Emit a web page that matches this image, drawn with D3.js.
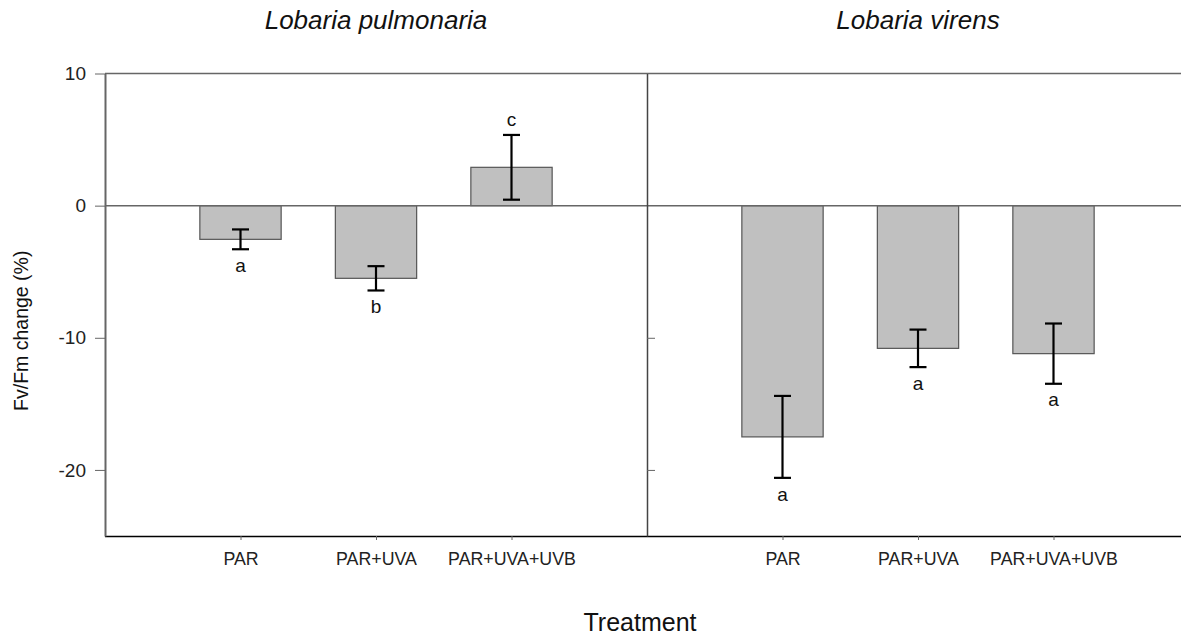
<!DOCTYPE html>
<html>
<head>
<meta charset="utf-8">
<script src="https://cdn.jsdelivr.net/npm/d3@7"></script>
<style>
  html, body { margin: 0; padding: 0; background: #fff; }
  svg { display: block; font-family: Arial, "Liberation Sans", sans-serif; }
</style>
</head>
<body>
<svg id="chart" width="1181" height="639"></svg>
<script>
// ---- data ----
const categories = ["PAR", "PAR+UVA", "PAR+UVA+UVB"];
const species = ["Lobaria pulmonaria", "Lobaria virens"];
const pulmonariaValues = [-2.55, -5.5, 2.9];
const pulmonariaErrors = [0.75, 0.92, 2.45];
const pulmonariaLetters = ["a", "b", "c"];
const virensValues = [-17.5, -10.8, -11.2];
const virensErrors = [3.1, 1.42, 2.28];
const virensLetters = ["a", "a", "a"];
const yTicks = [10, 0, -10, -20];
const yDomain = [-25, 10];

const panels = [
  { title: species[0], values: pulmonariaValues, errors: pulmonariaErrors, letters: pulmonariaLetters },
  { title: species[1], values: virensValues, errors: virensErrors, letters: virensLetters }
];

// ---- layout ----
const svg = d3.select("#chart");
const W = 1181;
const plotLeft = 105, plotTop = 73.5, plotBottom = 536, panelW = 542;
const axisGrey = "#666";
const FONT = "Arial, 'Liberation Sans', sans-serif";

const y = d3.scaleLinear().domain(yDomain).range([plotBottom, plotTop]);

panels.forEach((p, i) => {
  const x0 = plotLeft + i * panelW;
  const x = d3.scalePoint().domain(categories).range([x0, x0 + panelW]).padding(1);
  const bw = x.step() * 0.6;
  const g = svg.append("g");

  // bars
  g.selectAll("rect.bar").data(p.values).join("rect")
    .attr("class", "bar")
    .attr("x", (d, j) => x(categories[j]) - bw / 2)
    .attr("y", d => y(Math.max(0, d)))
    .attr("width", bw)
    .attr("height", d => Math.abs(y(d) - y(0)))
    .attr("fill", "#c0c0c0")
    .attr("stroke", "#555")
    .attr("stroke-width", 1.2);

  // error bars
  const eb = g.selectAll("g.err").data(p.values).join("g").attr("class", "err");
  const cap = 8.5;
  eb.append("line")
    .attr("x1", (d, j) => x(categories[j])).attr("x2", (d, j) => x(categories[j]))
    .attr("y1", (d, j) => y(d + p.errors[j])).attr("y2", (d, j) => y(d - p.errors[j]))
    .attr("stroke", "#000").attr("stroke-width", 2.2);
  [1, -1].forEach(s => {
    eb.append("line")
      .attr("x1", (d, j) => x(categories[j]) - cap).attr("x2", (d, j) => x(categories[j]) + cap)
      .attr("y1", (d, j) => y(d + s * p.errors[j])).attr("y2", (d, j) => y(d + s * p.errors[j]))
      .attr("stroke", "#000").attr("stroke-width", 2.2);
  });

  // significance letters
  g.selectAll("text.letter").data(p.values).join("text")
    .attr("class", "letter")
    .attr("x", (d, j) => x(categories[j]))
    .attr("y", (d, j) => d >= 0 ? y(d + p.errors[j]) - 16 : y(d - p.errors[j]) + 16)
    .attr("dy", "0.35em")
    .attr("text-anchor", "middle")
    .attr("font-size", 19)
    .attr("fill", "#111")
    .text((d, j) => p.letters[j]);

  // bottom axis
  const xb = g.append("g").attr("transform", `translate(0,${plotBottom})`)
    .call(d3.axisBottom(x).tickSize(4).tickSizeOuter(0).tickPadding(12));
  xb.select(".domain").attr("stroke", "#000").attr("stroke-width", 1.5)
    .attr("d", `M${x0},0.5H${x0 + panelW}`);
  xb.selectAll(".tick line").attr("stroke", axisGrey);
  xb.selectAll(".tick text").attr("font-size", 17.8).attr("fill", "#222")
    .attr("font-family", FONT);

  // title
  svg.append("text")
    .attr("x", x0 + panelW / 2)
    .attr("y", 29)
    .attr("text-anchor", "middle")
    .attr("font-size", 26)
    .attr("font-style", "italic")
    .attr("fill", "#111")
    .text(p.title);
});

// zero line across both panels
svg.append("line")
  .attr("x1", plotLeft).attr("x2", W)
  .attr("y1", y(0)).attr("y2", y(0))
  .attr("stroke", axisGrey).attr("stroke-width", 1.5);

// top border
svg.append("line")
  .attr("x1", plotLeft).attr("x2", W)
  .attr("y1", y(yDomain[1])).attr("y2", y(yDomain[1]))
  .attr("stroke", axisGrey).attr("stroke-width", 1.5);

// left y axis
const ya = svg.append("g").attr("transform", `translate(${plotLeft},0)`)
  .call(d3.axisLeft(y).tickValues(yTicks).tickSize(10).tickSizeOuter(0).tickPadding(9).tickFormat(d => String(d)));
ya.select(".domain").attr("stroke", axisGrey).attr("stroke-width", 2);
ya.selectAll(".tick line").attr("stroke", axisGrey);
ya.selectAll(".tick text").attr("font-size", 19).attr("fill", "#222")
  .attr("font-family", FONT);

// divider axis (right panel), inward ticks without labels
const ya2 = svg.append("g").attr("transform", `translate(${plotLeft + panelW},0)`)
  .call(d3.axisRight(y).tickValues(yTicks.filter(v => v < 0)).tickSize(8).tickSizeOuter(0).tickFormat(""));
ya2.select(".domain").attr("stroke", "#444").attr("stroke-width", 1.5);
ya2.selectAll(".tick line").attr("stroke", axisGrey);

// axis titles
svg.append("text")
  .attr("transform", `translate(28,${(plotTop + plotBottom) / 2 + 26}) rotate(-90)`)
  .attr("text-anchor", "middle")
  .attr("font-size", 19.5)
  .attr("fill", "#111")
  .text("Fv/Fm change (%)");

svg.append("text")
  .attr("x", 640)
  .attr("y", 631)
  .attr("text-anchor", "middle")
  .attr("font-size", 25)
  .attr("fill", "#111")
  .text("Treatment");
</script>
</body>
</html>
